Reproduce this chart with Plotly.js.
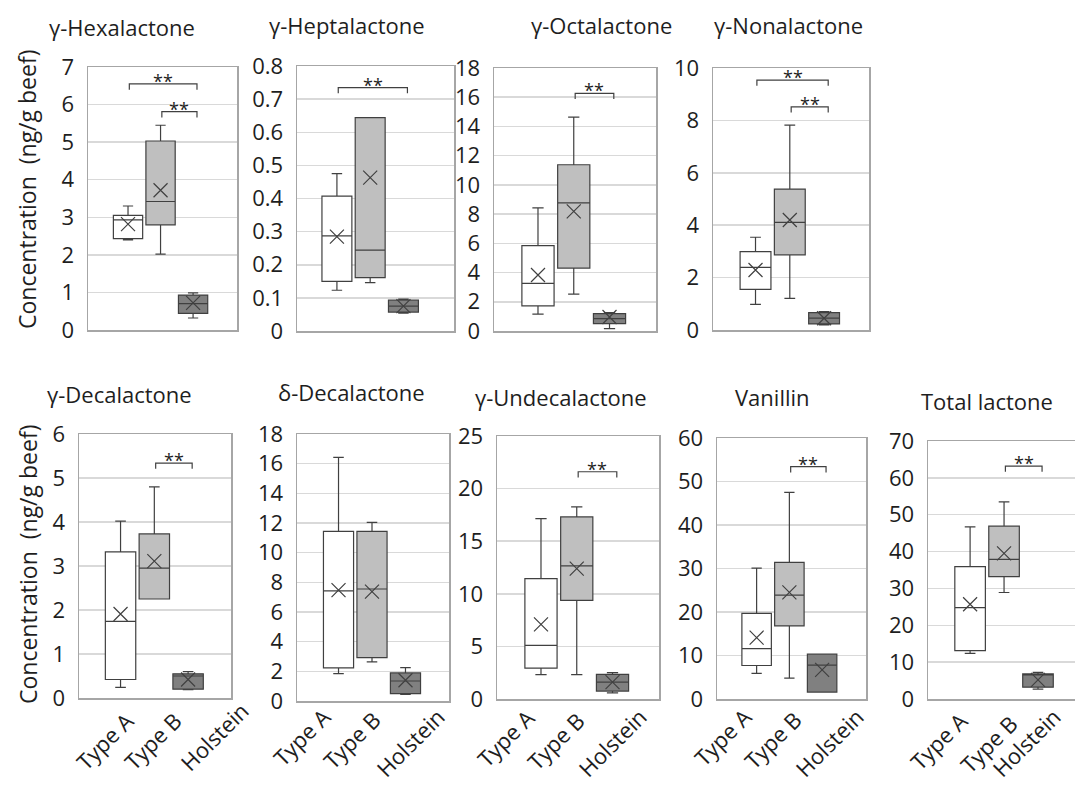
<!DOCTYPE html>
<html><head><meta charset="utf-8">
<script src="https://cdn.plot.ly/plotly-3.0.1.min.js"></script>
<style>html,body{margin:0;padding:0;background:#fff;}#chart{width:1075px;height:785px;}</style>
</head><body><div id="chart"></div>
<script>
// ---------- DATA ----------
const groups = ['Type A', 'Type B', 'Holstein'];
const compounds = ['γ-Hexalactone', 'γ-Heptalactone', 'γ-Octalactone', 'γ-Nonalactone',
  'γ-Decalactone', 'δ-Decalactone', 'γ-Undecalactone', 'Vanillin', 'Total lactone'];
// each row = compound; columns = Type A, Type B, Holstein
const lowerWhisker = [
  [2.40, 2.02, 0.32], [0.123, 0.146, 0.054], [1.15, 2.52, 0.16], [0.98, 1.21, 0.19],
  [0.24, 2.25, 0.19], [1.85, 2.64, 0.45], [2.31, 2.31, 0.59], [5.9, 4.8, 1.6], [12.4, 28.9, 2.7]];
const q1Values = [
  [2.43, 2.80, 0.44], [0.150, 0.161, 0.057], [1.72, 4.31, 0.50], [1.55, 2.87, 0.23],
  [0.42, 2.25, 0.20], [2.23, 2.93, 0.50], [2.94, 9.38, 0.75], [7.7, 16.8, 1.6], [13.1, 33.2, 3.2]];
const medianValues = [
  [2.93, 3.42, 0.70], [0.287, 0.244, 0.075], [3.26, 8.77, 0.85], [2.39, 4.11, 0.45],
  [1.74, 2.95, 0.50], [7.42, 7.55, 1.35], [5.10, 12.65, 1.61], [11.6, 23.9, 7.8], [24.8, 37.9, 6.7]];
const q3Values = [
  [3.05, 5.03, 0.93], [0.407, 0.644, 0.093], [5.85, 11.38, 1.19], [2.99, 5.38, 0.66],
  [3.32, 3.73, 0.55], [11.43, 11.43, 1.89], [11.44, 17.31, 2.34], [19.7, 31.4, 10.3], [35.9, 46.9, 6.8]];
const upperWhisker = [
  [3.30, 5.45, 0.99], [0.475, 0.644, 0.096], [8.42, 14.64, 1.26], [3.54, 7.82, 0.70],
  [4.02, 4.80, 0.60], [16.43, 12.04, 2.25], [17.14, 18.26, 2.50], [30.1, 47.5, 10.3], [46.7, 53.5, 7.2]];
const meanValues = [
  [2.82, 3.72, 0.72], [0.285, 0.463, 0.075], [3.83, 8.19, 0.96], [2.29, 4.20, 0.45],
  [1.91, 3.11, 0.42], [7.48, 7.37, 1.40], [7.10, 12.39, 1.60], [14.1, 24.5, 6.7], [25.7, 39.5, 5.2]];
// significance brackets (**): [from group, to group, level]
const sigPairs = [
  [[0, 2, 6.55], [1, 2, 5.81]], [[0, 2, 0.735]], [[1, 2, 16.27]], [[0, 2, 9.54], [1, 2, 8.52]],
  [[1, 2, 5.34]], [], [[1, 2, 21.6]], [[1, 2, 53.4]], [[1, 2, 63.2]]];
const yMax = [7, 0.8, 18, 10, 6, 18, 25, 60, 70];
const yStep = [1, 0.1, 2, 2, 1, 2, 5, 10, 10];

// ---------- LAYOUT / STYLE ----------
const W = 1075, H = 785;
// pixel frames [left, right, top, bottom]
const frames = [
  [88, 237, 67, 330], [297, 454, 66, 331], [494, 656, 68, 331], [713, 869, 68, 330],
  [79, 231, 434, 698], [297, 449, 434, 701], [497, 659, 436, 699], [717, 866, 438, 699], [928, 1075, 441, 699]];
const xRanges = [[-1.23, 3.35], [-1.2, 3.52], [-1.23, 3.3], [-1.24, 3.31], [-1.23, 3.27],
  [-1.24, 3.3], [-1.23, 3.3], [-1.21, 3.34], [-1.24, 3.09]];
const titlePos = [[122, 27], [347, 25], [601, 25], [788, 25], [119, 394], [352, 392], [561, 397], [772, 397], [987, 401]];
// rotated category labels: top-right anchor points (px)
const catLabelPos = [
  null, null, null, null,
  [[142, 703], [190, 703], [258, 693]],
  [[339, 699], [389, 702], [454, 699]],
  [[543, 700], [593, 703], [656, 699]],
  [[760, 699], [810, 702], [873, 699]],
  [[976, 703], [1026, 706], [1070, 699]]];
const fills = ['#ffffff', '#bfbfbf', '#808080'];
const lineCol = '#404040';
const textCol = '#1e1e1e';
const FONT = 'Open Sans, Noto Sans, sans-serif';

const traces = [];
const layout = {
  width: W, height: H, margin: {l: 0, r: 0, t: 0, b: 0},
  paper_bgcolor: '#fff', plot_bgcolor: '#fff', showlegend: false,
  boxmode: 'overlay', font: {family: FONT, color: textCol},
  annotations: [], shapes: []
};

compounds.forEach((name, p) => {
  const k = p === 0 ? '' : String(p + 1);
  const xa = 'x' + k, ya = 'y' + k;
  const [l, r, t, b] = frames[p];
  groups.forEach((g, gi) => {
    traces.push({
      type: 'box', x: [g], xaxis: xa, yaxis: ya,
      q1: [q1Values[p][gi]], median: [medianValues[p][gi]], q3: [q3Values[p][gi]],
      lowerfence: [lowerWhisker[p][gi]], upperfence: [upperWhisker[p][gi]],
      boxpoints: false, width: 0.9, whiskerwidth: 0.35,
      fillcolor: fills[gi], line: {color: lineCol, width: 1.2},
      hoverinfo: 'skip'
    });
  });
  traces.push({
    type: 'scatter', mode: 'markers', x: groups, y: meanValues[p], xaxis: xa, yaxis: ya,
    marker: {symbol: 'x-thin-open', size: 14, line: {color: lineCol, width: 1.2}, color: lineCol},
    hoverinfo: 'skip'
  });
  layout['xaxis' + k] = {
    domain: [l / W, Math.min(1, r / W)], anchor: ya, type: 'category',
    categoryorder: 'array', categoryarray: groups, range: xRanges[p],
    showticklabels: false, ticks: '', showgrid: false, zeroline: false,
    showline: true, mirror: true, linecolor: '#a6a6a6', linewidth: 1.5, fixedrange: true
  };
  layout['yaxis' + k] = {
    domain: [1 - b / H, 1 - t / H], anchor: xa, range: [0, yMax[p]], dtick: yStep[p], tick0: 0,
    showgrid: true, gridcolor: '#d9d9d9', gridwidth: 1.5, zeroline: false,
    showline: true, mirror: p === 8 ? false : true, linecolor: '#a6a6a6', linewidth: 1.5,
    ticks: 'outside', ticklen: 8, tickcolor: 'rgba(0,0,0,0)',
    tickfont: {size: 22, family: FONT, color: textCol}, fixedrange: true
  };
  // title
  layout.annotations.push({
    xref: 'paper', yref: 'paper', x: titlePos[p][0] / W, y: 1 - titlePos[p][1] / H,
    xanchor: 'center', yanchor: 'middle', text: name, showarrow: false,
    font: {size: 22, family: FONT, color: textCol}
  });
  // significance brackets
  sigPairs[p].forEach(([a, c, lev]) => {
    const drop = yMax[p] * 0.022;
    const x0 = a + 0.04, x1 = c + 0.12;
    layout.shapes.push({
      type: 'path', xref: xa, yref: ya,
      path: `M ${x0} ${lev - drop} L ${x0} ${lev} L ${x1} ${lev} L ${x1} ${lev - drop}`,
      line: {color: lineCol, width: 1.2}
    });
    layout.annotations.push({
      xref: xa, yref: ya, x: (x0 + x1) / 2, y: lev, xanchor: 'center', yanchor: 'bottom',
      yshift: -11, text: '**', showarrow: false, font: {size: 18, family: FONT, color: textCol}
    });
  });
  // category labels
  if (catLabelPos[p]) {
    groups.forEach((g, gi) => {
      const [px, py] = catLabelPos[p][gi];
      layout.annotations.push({
        xref: 'paper', yref: 'paper', x: px / W, y: 1 - py / H, xanchor: 'right', yanchor: 'top',
        text: g, textangle: -45, showarrow: false, font: {size: 22, family: FONT, color: textCol}
      });
    });
  }
});
// y-axis titles
[[27, 190], [28, 565]].forEach(([px, py]) => {
  layout.annotations.push({
    xref: 'paper', yref: 'paper', x: px / W, y: 1 - py / H, xanchor: 'center', yanchor: 'middle',
    text: 'Concentration\u00a0\u00a0(ng/g beef)', textangle: -90, showarrow: false,
    font: {size: 23, family: FONT, color: textCol}
  });
});

Plotly.newPlot('chart', traces, layout, {staticPlot: true, displayModeBar: false});
</script></body></html>
